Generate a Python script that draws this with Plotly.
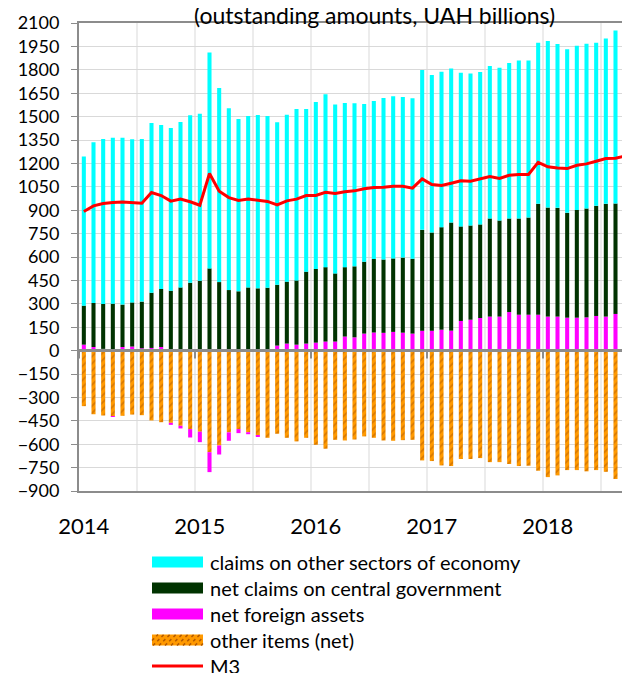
import pandas as pd
import plotly.graph_objects as go

# Monetary survey components, outstanding amounts, UAH bn (Jan 2014 - Sep 2018)
months = list(pd.date_range("2014-01-01", periods=57, freq="MS").strftime("%b %Y"))

claims = [956, 1030, 1058, 1064, 1070, 1046, 1043, 1088, 1051, 1043, 1061, 1073,
          1071, 1384, 1244, 1165, 1105, 1099, 1111, 1101, 1041, 1070, 1099, 1043,
          1071, 1108, 1082, 1052, 1045, 1011, 1013, 1035, 1039, 1030, 1028, 1024,
          1009, 997, 988, 985, 975, 977, 977, 979, 996, 1013, 1007, 1032,
          1067, 1050, 1048, 1052, 1056, 1045, 1060, 1109, 1120]
gov = [250, 282, 288, 301, 272, 283, 299, 354, 372, 384, 405, 435,
       448, 527, 439, 388, 380, 405, 399, 393, 390, 397, 412, 461,
       472, 477, 437, 445, 455, 461, 471, 470, 471, 481, 480, 647,
       630, 657, 693, 606, 604, 600, 629, 616, 600, 617, 623, 711,
       699, 697, 672, 691, 698, 706, 723, 708, 725]
nfa = [38, 23, 11, -4, 23, 26, 15, 17, 23, -13, -17, -54,
       -67, -128, -58, -54, -26, -13, -4, 10, 32, 45, 38, 45,
       51, 58, 58, 90, 85, 109, 116, 114, 120, 115, 109, 127,
       127, 134, 128, 190, 198, 209, 218, 218, 247, 230, 230, 230,
       218, 218, 211, 211, 213, 222, 218, 235, 224]
other = [-356, -408, -416, -420, -418, -410, -414, -448, -459, -463, -482, -503,
         -520, -651, -608, -524, -503, -523, -544, -559, -533, -559, -582, -559,
         -604, -629, -572, -576, -570, -550, -559, -576, -578, -574, -572, -704,
         -708, -736, -740, -695, -695, -689, -715, -715, -727, -740, -738, -770,
         -811, -800, -766, -766, -774, -766, -777, -823, -823]
m3 = [892, 928, 943, 950, 952, 950, 945, 1013, 994, 958, 971, 954,
      932, 1135, 1022, 981, 962, 971, 962, 956, 934, 960, 971, 994,
      994, 1015, 1007, 1018, 1024, 1037, 1045, 1047, 1054, 1054, 1041, 1101,
      1065, 1058, 1073, 1088, 1086, 1101, 1116, 1103, 1124, 1129, 1129, 1207,
      1178, 1171, 1167, 1188, 1197, 1214, 1231, 1233, 1248]

years = ["2014", "2015", "2016", "2017", "2018"]

x = list(range(len(months)))
year_pos = [i for i, m in enumerate(months) if m.startswith("Jan")]

CYAN = "#00FFFF"
GREEN = "#003300"
MAGENTA = "#FF00FF"
ORANGE = "#FF9900"
BROWN = "#B35A00"
RED = "#FF0000"
GRID = "#D9D9D9"
AXIS = "#8C8C8C"
FONT = "Lato"

fig = go.Figure()

# stacking order: negatives go other -> nfa, positives nfa -> gov -> claims
fig.add_trace(go.Bar(x=x, y=other, name="other items (net)", hovertext=months,
                     marker=dict(color=ORANGE, line_width=0,
                                 pattern=dict(shape="/", bgcolor=ORANGE, fgcolor=BROWN,
                                              size=5, solidity=0.35))))
fig.add_trace(go.Bar(x=x, y=nfa, name="net foreign assets", hovertext=months,
                     marker=dict(color=MAGENTA, line_width=0)))
fig.add_trace(go.Bar(x=x, y=gov, name="net claims on central government", hovertext=months,
                     marker=dict(color=GREEN, line_width=0)))
fig.add_trace(go.Bar(x=x, y=claims, name="claims on other sectors of economy", hovertext=months,
                     marker=dict(color=CYAN, line_width=0)))
fig.add_trace(go.Scatter(x=x, y=m3, name="M3", mode="lines", hovertext=months,
                         line=dict(color=RED, width=3)))

# page is drawn with an 8px body margin, so the figure is sized to fit the window
OFF = 8
W, H = 630 - OFF, 673 - OFF
L, R, T, B = 79 - OFF, 0, 23 - OFF, 182
PW, PH = W - L - R, H - T - B


def px(X):
    # window x pixel -> paper fraction
    return (X - OFF - L) / PW


def py(Y):
    # window y pixel -> paper fraction
    return (H - B - (Y - OFF)) / PH


shapes = []
# vertical grid every half year (between categories)
for k in range(6, len(x), 6):
    shapes.append(dict(type="line", xref="x", yref="paper", x0=k - 0.5, x1=k - 0.5,
                       y0=0, y1=1, line=dict(color=GRID, width=1), layer="below"))
# zero line over the bars, with year tick marks below it
shapes.append(dict(type="line", xref="paper", yref="y", x0=0, x1=1, y0=0, y1=0,
                   line=dict(color=AXIS, width=3), layer="above"))
for p in [0] + year_pos[1:]:
    shapes.append(dict(type="line", xref="x", yref="y", x0=p - 0.5, x1=p - 0.5,
                       y0=0, y1=-50, line=dict(color=AXIS, width=2), layer="above"))

# legend drawn by hand (wide swatches, as in the original)
legend_items = [
    ("claims on other sectors of economy", "bar", CYAN),
    ("net claims on central government", "bar", GREEN),
    ("net foreign assets", "bar", MAGENTA),
    ("other items (net)", "hatch", ORANGE),
    ("M3", "line", RED),
]
sx0, sx1, tx = 152, 203, 208
annotations = []
for i, (label, kind, color) in enumerate(legend_items):
    yc = 562 + i * 26
    if kind == "line":
        shapes.append(dict(type="line", xref="paper", yref="paper", x0=px(sx0), x1=px(sx1),
                           y0=py(yc), y1=py(yc), line=dict(color=color, width=3)))
    else:
        yb, yt = yc + 5.5, yc - 5.5
        shapes.append(dict(type="rect", xref="paper", yref="paper", x0=px(sx0), x1=px(sx1),
                           y0=py(yb), y1=py(yt), fillcolor=color, line_width=0))
        if kind == "hatch":
            h = yb - yt
            path = ""
            c = sx0 - h
            while c < sx1:
                xa, ya = c, yb
                xb, yb2 = c + h, yt
                if xa < sx0:
                    ya = yb - (sx0 - xa)
                    xa = sx0
                if xb > sx1:
                    yb2 = yb - (sx1 - c)
                    xb = sx1
                path += f"M{px(xa)},{py(ya)} L{px(xb)},{py(yb2)} "
                c += 6
            shapes.append(dict(type="path", xref="paper", yref="paper", path=path,
                               line=dict(color=BROWN, width=1.5, dash="dot")))
    annotations.append(dict(text=label, xref="paper", yref="paper", x=px(tx), y=py(yc),
                            xanchor="left", yanchor="middle", showarrow=False,
                            font=dict(size=20, color="#000000", family=FONT)))

# title (its top runs into the page edge in the original)
annotations.append(dict(text="(outstanding amounts, UAH billions)", xref="paper", yref="paper",
                        x=px(374), y=py(15), xanchor="center", yanchor="middle",
                        showarrow=False, font=dict(size=23, color="#000000", family=FONT)))

fig.update_layout(
    width=W, height=H,
    margin=dict(l=L, r=R, t=T, b=B, pad=0),
    template="plotly_white",
    plot_bgcolor="white", paper_bgcolor="white",
    barmode="relative", bargap=0.58,
    showlegend=False,
    font=dict(family=FONT, color="#000000"),
    shapes=shapes, annotations=annotations,
    xaxis=dict(range=[-0.5, len(x) - 0.5], tickvals=year_pos, ticktext=years,
               showgrid=False, zeroline=False, ticks="", ticklabelstandoff=15,
               tickfont=dict(size=22, color="#000000"),
               showline=True, mirror=True, linecolor=AXIS, linewidth=1.5),
    yaxis=dict(range=[-900, 2100], tick0=0, dtick=150, showgrid=True, gridcolor=GRID,
               gridwidth=1, zeroline=False, ticks="outside", ticklen=6, tickcolor=AXIS,
               ticklabelstandoff=8, tickfont=dict(size=18, color="#000000"),
               showline=True, linecolor=AXIS, linewidth=2),
)

fig.write_html("out.html")
